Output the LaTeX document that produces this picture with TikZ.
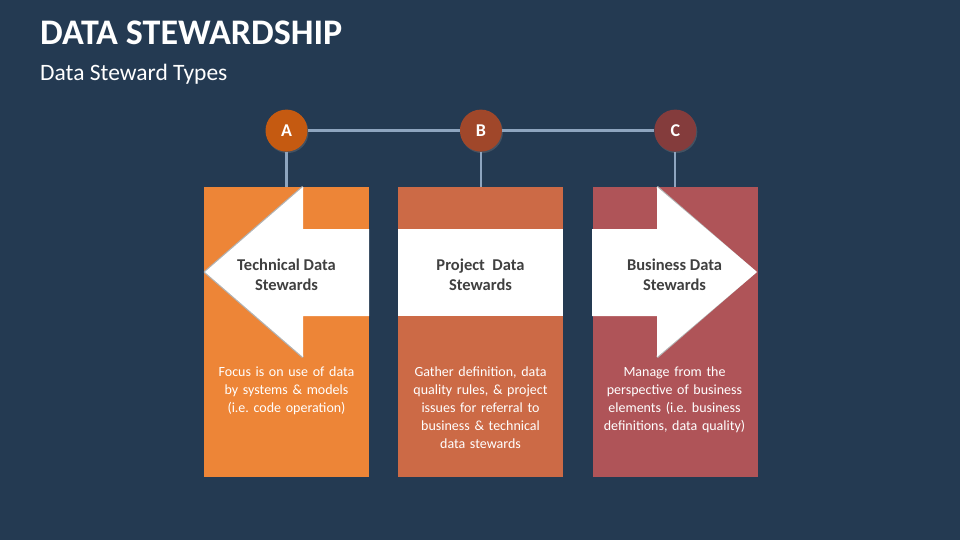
\documentclass[tikz,border=0pt]{standalone}
\usepackage{fontspec}
\setmainfont{Carlito}
\usetikzlibrary{positioning, calc, shadows}

\definecolor{bgnavy}{HTML}{243A52}
\definecolor{boxorange}{HTML}{ED8537}
\definecolor{boxrust}{HTML}{CC6A46}
\definecolor{boxrose}{HTML}{AF5458}
\definecolor{dotorange}{HTML}{C55A11}
\definecolor{dotrust}{HTML}{A0472A}
\definecolor{dotrose}{HTML}{843C3C}
\definecolor{linkblue}{HTML}{8EA5BF}
\definecolor{labelgray}{HTML}{404040}

\frenchspacing

\begin{document}
\begin{tikzpicture}[
        x=1pt, y=-1pt,
        node distance=29pt and 29pt,
        box/.style={rectangle, minimum width=165pt, minimum height=290pt, inner sep=0pt},
        dot/.style={circle, minimum size=42pt, inner sep=0pt, text=white, font=\bfseries\fontsize{18}{18}\selectfont, drop shadow={shadow xshift=1pt, shadow yshift=-1.5pt, opacity=0.35}},
        link/.style={draw=linkblue, line width=2.2pt},
        edge shade/.style={draw=gray!60, line width=2.5pt, line join=round},
        typelabel/.style={text=labelgray, align=center, font=\bfseries\fontsize{16.5}{20}\selectfont},
        desc/.style={text=white, text width=160pt, align=center, anchor=north, inner sep=0pt, font=\fontsize{14}{18}\selectfont}
    ]
        \useasboundingbox[fill=bgnavy] (0,0) rectangle (960,540);

        % title
        \node[anchor=base west, inner sep=0pt, text=white, font=\bfseries\fontsize{36}{36}\selectfont] (title) at (40,45) {DATA STEWARDSHIP};
        \node[anchor=base west, inner sep=0pt, text=white, font=\fontsize{23.5}{24}\selectfont] (subtitle) at (40,81) {Data Steward Types};

        % boxes
        \node[box, fill=boxorange] (boxA) at (286.5,332) {};
        \node[box, fill=boxrust, right=of boxA] (boxB) {};
        \node[box, fill=boxrose, right=of boxB] (boxC) {};

        % arrow bands
        \draw[edge shade] (303,187) -- (205,272) -- (303,357);
        \fill[white] (303,187) -- (205,272) -- (303,357) -- (303,316) -- (369,316) -- (369,229) -- (303,229) -- cycle;
        \fill[white] (398,229) rectangle (563,316);
        \draw[edge shade] (657,187) -- (755,272) -- (657,357);
        \fill[white] (592,229) -- (657,229) -- (657,187) -- (757,272) -- (657,357) -- (657,316) -- (592,316) -- cycle;

        % circles
        \node[dot, fill=dotorange, above=35pt of boxA] (circA) {A};
        \node[dot, fill=dotrust, above=35pt of boxB] (circB) {B};
        \node[dot, fill=dotrose, above=35pt of boxC] (circC) {C};

        \draw[link] (circA) -- (circB);
        \draw[link] (circB) -- (circC);
        \draw[link] (circA) -- (boxA);
        \draw[link] (circB) -- (boxB);
        \draw[link] (circC) -- (boxC);

        % labels
        \node[typelabel] (labA) at (286.5,274.5) {Technical Data\\Stewards};
        \node[typelabel] (labB) at (480.5,274.5) {Project\ \ Data\\Stewards};
        \node[typelabel] (labC) at (674.5,274.5) {Business Data\\Stewards};

        \node[desc] (descA) at (286.5,367) {Focus is on use of data\\by systems \& models\\(i.e. code operation)};
        \node[desc] (descB) at (480.5,367) {Gather definition, data\\quality rules, \& project\\issues for referral to\\business \& technical\\data stewards};
        \node[desc] (descC) at (674.5,367) {Manage from the\\perspective of business\\elements (i.e. business\\definitions, data quality)};
    \end{tikzpicture}
\end{document}
